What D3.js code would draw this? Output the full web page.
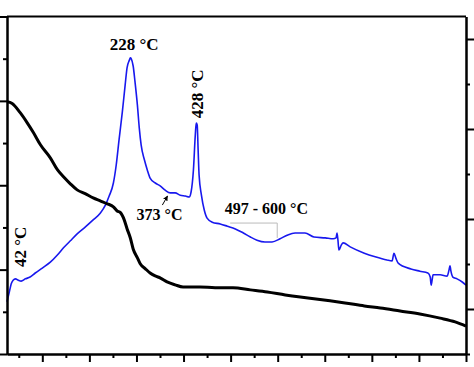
<!DOCTYPE html>
<html>
<head>
<meta charset="utf-8">
<script src="https://cdn.jsdelivr.net/npm/d3@7"></script>
<style>
  body { margin: 0; background: #fff; }
  svg { display: block; }
</style>
</head>
<body>
<svg id="chart"></svg>
<script>
"use strict";

const width = 474;
const height = 367;

// plot box (the reference is cropped, so no tick labels are visible)
const left = 7;
const right = 466;
const top_y = 16.5;
const bottom_y = 354;

// x axis: temperature-like units, major every 100, minor every 50
const x_domain = [-75, 900];
const x_major = [0, 100, 200, 300, 400, 500, 600, 700, 800, 900];
const x_minor = [-50, 50, 150, 250, 350, 450, 550, 650, 750, 850];

// left axis (TG, black curve)
const yl_domain = [20, 100];
const yl_major = [20, 40, 60, 80, 100];
const yl_minor = [30, 50, 70, 90];

// right axis (DTA, blue curve)
const yr_domain = [-1, 6.5];
const yr_major = [0, 2, 4, 6];
const yr_minor = [-1, 1, 3, 5];

// TG curve
const tg_x = [-75, -64, -47, -32, -19, -4, 17, 32, 45, 59, 74, 91, 108, 123, 138, 151, 159, 166,
    174, 180, 187, 193, 202, 208, 219, 229, 240, 251, 265, 282, 299, 335, 367, 405, 442, 478,
    516, 548, 577, 611, 643, 684, 718, 760, 802, 845, 877, 900];
const tg_y = [79.8, 79.4, 77.2, 74.8, 72.5, 69.6, 66.5, 63.7, 62.0, 60.4, 58.9, 58.0, 57.0, 56.3,
    55.6, 54.9, 53.9, 53.5, 51.8, 49.7, 47.5, 44.9, 42.8, 41.4, 40.2, 39.2, 38.5, 38.0, 37.1,
    36.4, 35.9, 35.9, 35.7, 35.7, 35.2, 34.7, 34.0, 33.5, 33.1, 32.6, 32.1, 31.4, 30.9, 30.2,
    29.5, 28.5, 27.6, 26.6];

// DTA curve
const dta_x = [-75, -70, -66, -62, -57, -51, -45, -36, -26, -15, 0, 17, 32, 45, 59, 74, 91, 108,
    123, 134, 142, 151, 157, 163, 170, 176, 180, 185, 187, 189, 193, 197, 202, 206, 210, 217,
    223, 229, 240, 251, 261, 272, 282, 293, 304, 312, 316, 321, 325, 327, 329, 331, 333, 338,
    344, 350, 361, 378, 393, 410, 427, 442, 456, 473, 488, 505, 520, 537, 558, 577, 601, 618,
    624, 626, 628, 630, 635, 639, 654, 684, 707, 732, 743, 747, 751, 756, 783, 802, 819, 824,
    826, 828, 830, 845, 860, 864, 866, 868, 872, 881, 892, 900];
const dta_y = [0.16, 0.38, 0.56, 0.64, 0.67, 0.64, 0.62, 0.67, 0.71, 0.80, 0.91, 1.04, 1.20, 1.36,
    1.51, 1.67, 1.82, 1.98, 2.13, 2.31, 2.51, 2.80, 3.20, 3.76, 4.38, 4.98, 5.36, 5.53, 5.58,
    5.56, 5.40, 5.04, 4.53, 4.02, 3.64, 3.31, 3.09, 2.91, 2.80, 2.73, 2.64, 2.58, 2.58, 2.53,
    2.51, 2.49, 2.60, 3.09, 3.87, 4.13, 4.09, 3.53, 2.98, 2.53, 2.20, 2.02, 1.93, 1.89, 1.84,
    1.78, 1.69, 1.60, 1.53, 1.49, 1.49, 1.56, 1.64, 1.69, 1.69, 1.60, 1.58, 1.56, 1.58, 1.69,
    1.53, 1.31, 1.42, 1.47, 1.38, 1.24, 1.16, 1.09, 1.07, 1.24, 1.13, 1.02, 0.89, 0.84, 0.80,
    0.71, 0.53, 0.64, 0.76, 0.76, 0.73, 0.87, 0.96, 0.84, 0.71, 0.67, 0.60, 0.53];

const svg = d3.select("#chart")
    .attr("width", width)
    .attr("height", height);

const x = d3.scaleLinear().domain(x_domain).range([left, right]);
const yl = d3.scaleLinear().domain(yl_domain).range([bottom_y, top_y]);
const yr = d3.scaleLinear().domain(yr_domain).range([bottom_y, top_y]);

const blue = "#1818ee";
const font = "'Liberation Serif', 'Times New Roman', serif";

// curves
const tg = d3.zip(tg_x, tg_y);
const dta = d3.zip(dta_x, dta_y);

svg.append("path")
    .datum(dta)
    .attr("fill", "none")
    .attr("stroke", blue)
    .attr("stroke-width", 1.6)
    .attr("stroke-linejoin", "round")
    .attr("d", d3.line().x(d => x(d[0])).y(d => yr(d[1])).curve(d3.curveMonotoneX));

svg.append("path")
    .datum(tg)
    .attr("fill", "none")
    .attr("stroke", "#000")
    .attr("stroke-width", 3)
    .attr("stroke-linejoin", "round")
    .attr("d", d3.line().x(d => x(d[0])).y(d => yl(d[1])).curve(d3.curveMonotoneX));

// axes
function styleAxis(g) {
    g.select(".domain").attr("stroke", "#000").attr("stroke-width", 2);
    g.selectAll(".tick line").attr("stroke", "#000").attr("stroke-width", 2);
    g.selectAll(".tick text").remove();
}

function addAxis(axisFn, scale, transform, major, minor, majorLen, minorLen) {
    svg.append("g")
        .attr("transform", transform)
        .call(axisFn(scale).tickValues(minor).tickSize(minorLen).tickSizeOuter(0).tickFormat(""))
        .call(styleAxis);
    svg.append("g")
        .attr("transform", transform)
        .call(axisFn(scale).tickValues(major).tickSize(majorLen).tickSizeOuter(0).tickFormat(""))
        .call(styleAxis);
}

addAxis(d3.axisBottom, x, `translate(0,${bottom_y})`, x_major, x_minor, 8, 4);
addAxis(d3.axisLeft, yl, `translate(${left},0)`, yl_major, yl_minor, 8, 4);
addAxis(d3.axisRight, yr, `translate(${right},0)`, yr_major, yr_minor, 8, 4);

// top border
svg.append("line")
    .attr("x1", left).attr("x2", right)
    .attr("y1", top_y).attr("y2", top_y)
    .attr("stroke", "#000").attr("stroke-width", 2);

// annotations
svg.append("text")
    .attr("x", x(195)).attr("y", yr(5.76))
    .attr("text-anchor", "middle")
    .style("font-family", font).style("font-weight", "bold").style("font-size", "17px")
    .text("228 °C");

svg.append("text")
    .attr("transform", `translate(${x(341)},${yr(4.78)}) rotate(-90)`)
    .attr("text-anchor", "middle")
    .style("font-family", font).style("font-weight", "bold").style("font-size", "17px")
    .text("428 °C");

svg.append("text")
    .attr("transform", `translate(${x(-34)},${yr(1.38)}) rotate(-90)`)
    .attr("text-anchor", "middle")
    .style("font-family", font).style("font-weight", "bold").style("font-size", "17px")
    .text("42 °C");

svg.append("text")
    .attr("x", x(249)).attr("y", yr(1.98))
    .attr("text-anchor", "middle")
    .style("font-family", font).style("font-weight", "bold").style("font-size", "16px")
    .text("373 °C");

svg.append("text")
    .attr("x", x(476)).attr("y", yr(2.11))
    .attr("text-anchor", "middle")
    .style("font-family", font).style("font-weight", "bold").style("font-size", "16px")
    .text("497 - 600 °C");

// arrow to 373 °C
svg.append("defs").append("marker")
    .attr("id", "arrow")
    .attr("viewBox", "0 0 10 10")
    .attr("refX", 9).attr("refY", 5)
    .attr("markerWidth", 5).attr("markerHeight", 5)
    .attr("orient", "auto")
    .append("path")
    .attr("d", "M0,0 L10,5 L0,10 z")
    .attr("fill", "#000");

svg.append("line")
    .attr("x1", x(255)).attr("y1", yr(2.31))
    .attr("x2", x(266)).attr("y2", yr(2.51))
    .attr("stroke", "#000").attr("stroke-width", 1)
    .attr("marker-end", "url(#arrow)");

// thin grey bracket under the 497 - 600 label
svg.append("path")
    .attr("d", `M${x(399)},${yr(1.91)} H${x(499)} V${yr(1.58)}`)
    .attr("fill", "none")
    .attr("stroke", "#bbbbbb")
    .attr("stroke-width", 1);
</script>
</body>
</html>
